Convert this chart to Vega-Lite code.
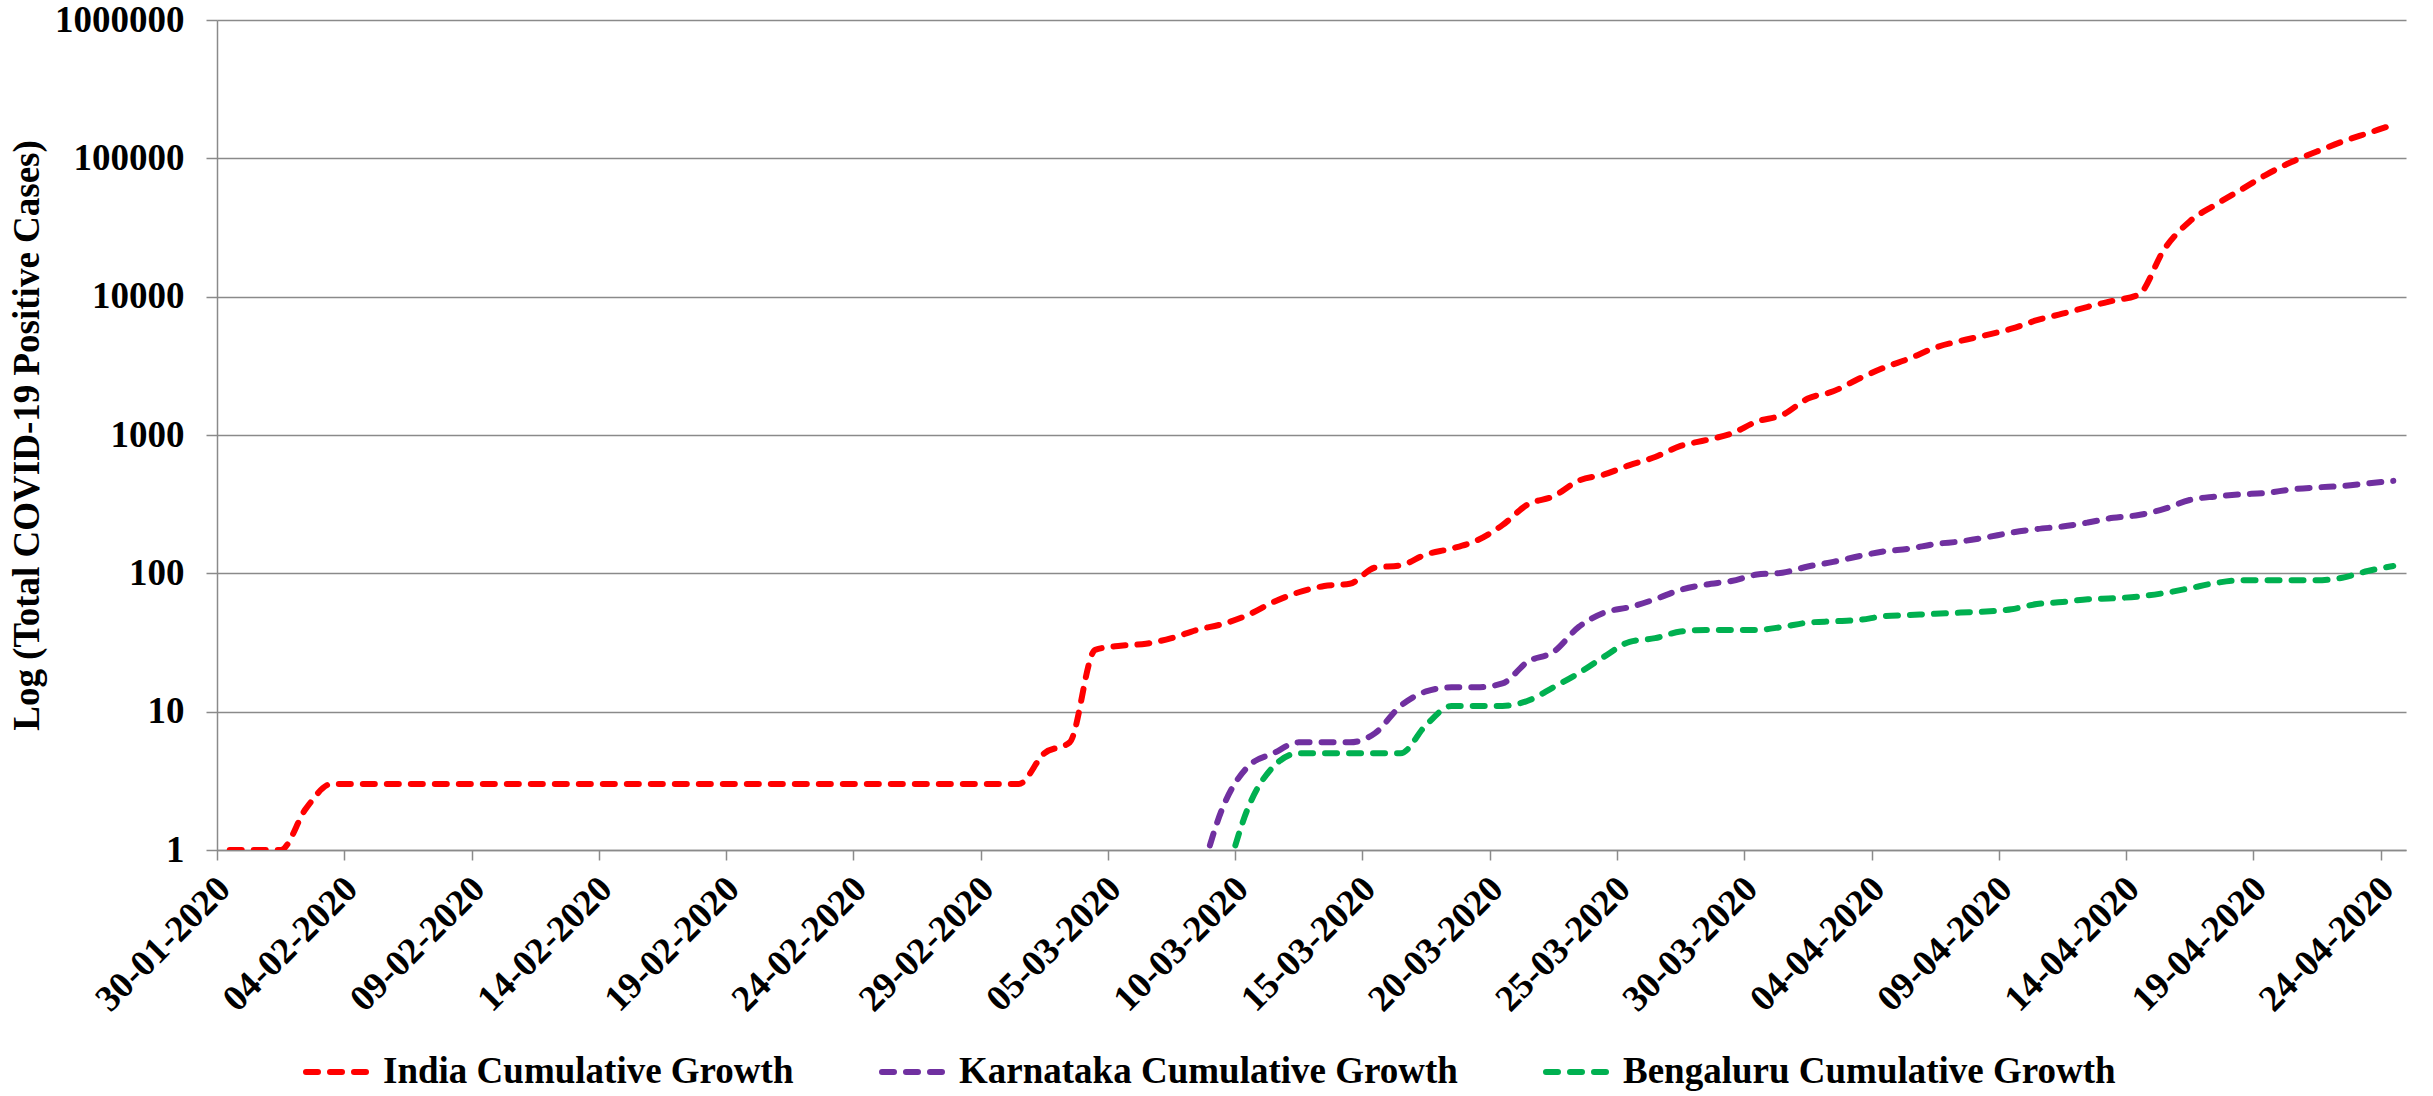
{
"$schema": "https://vega.github.io/schema/vega-lite/v6.json",
"width": 2189, "height": 830,
"autosize": {"type": "none"},
"padding": {"left": 217, "top": 20, "right": 27, "bottom": 246},
"background": "white",
"config": {"view": {"stroke": null}, "font": "Liberation Serif"},
"data": {"values": [
{"date":"2020-01-30","series":"India","cases":1},{"date":"2020-01-31","series":"India","cases":1},{"date":"2020-02-01","series":"India","cases":1},{"date":"2020-02-02","series":"India","cases":2},{"date":"2020-02-03","series":"India","cases":3},{"date":"2020-02-04","series":"India","cases":3},{"date":"2020-02-05","series":"India","cases":3},{"date":"2020-02-06","series":"India","cases":3},{"date":"2020-02-07","series":"India","cases":3},{"date":"2020-02-08","series":"India","cases":3},{"date":"2020-02-09","series":"India","cases":3},{"date":"2020-02-10","series":"India","cases":3},{"date":"2020-02-11","series":"India","cases":3},{"date":"2020-02-12","series":"India","cases":3},{"date":"2020-02-13","series":"India","cases":3},{"date":"2020-02-14","series":"India","cases":3},{"date":"2020-02-15","series":"India","cases":3},{"date":"2020-02-16","series":"India","cases":3},{"date":"2020-02-17","series":"India","cases":3},{"date":"2020-02-18","series":"India","cases":3},{"date":"2020-02-19","series":"India","cases":3},{"date":"2020-02-20","series":"India","cases":3},{"date":"2020-02-21","series":"India","cases":3},{"date":"2020-02-22","series":"India","cases":3},{"date":"2020-02-23","series":"India","cases":3},{"date":"2020-02-24","series":"India","cases":3},{"date":"2020-02-25","series":"India","cases":3},{"date":"2020-02-26","series":"India","cases":3},{"date":"2020-02-27","series":"India","cases":3},{"date":"2020-02-28","series":"India","cases":3},{"date":"2020-02-29","series":"India","cases":3},{"date":"2020-03-01","series":"India","cases":3},{"date":"2020-03-02","series":"India","cases":5},{"date":"2020-03-03","series":"India","cases":6},{"date":"2020-03-04","series":"India","cases":28},{"date":"2020-03-05","series":"India","cases":30},{"date":"2020-03-06","series":"India","cases":31},{"date":"2020-03-07","series":"India","cases":34},{"date":"2020-03-08","series":"India","cases":39},{"date":"2020-03-09","series":"India","cases":43},{"date":"2020-03-10","series":"India","cases":50},{"date":"2020-03-11","series":"India","cases":62},{"date":"2020-03-12","series":"India","cases":73},{"date":"2020-03-13","series":"India","cases":81},{"date":"2020-03-14","series":"India","cases":84},{"date":"2020-03-15","series":"India","cases":110},{"date":"2020-03-16","series":"India","cases":114},{"date":"2020-03-17","series":"India","cases":137},{"date":"2020-03-18","series":"India","cases":151},{"date":"2020-03-19","series":"India","cases":173},{"date":"2020-03-20","series":"India","cases":223},{"date":"2020-03-21","series":"India","cases":315},{"date":"2020-03-22","series":"India","cases":360},{"date":"2020-03-23","series":"India","cases":468},{"date":"2020-03-24","series":"India","cases":519},{"date":"2020-03-25","series":"India","cases":606},{"date":"2020-03-26","series":"India","cases":694},{"date":"2020-03-27","series":"India","cases":834},{"date":"2020-03-28","series":"India","cases":918},{"date":"2020-03-29","series":"India","cases":1024},{"date":"2020-03-30","series":"India","cases":1251},{"date":"2020-03-31","series":"India","cases":1397},{"date":"2020-04-01","series":"India","cases":1834},{"date":"2020-04-02","series":"India","cases":2069},{"date":"2020-04-03","series":"India","cases":2547},{"date":"2020-04-04","series":"India","cases":3072},{"date":"2020-04-05","series":"India","cases":3577},{"date":"2020-04-06","series":"India","cases":4281},{"date":"2020-04-07","series":"India","cases":4789},{"date":"2020-04-08","series":"India","cases":5274},{"date":"2020-04-09","series":"India","cases":5865},{"date":"2020-04-10","series":"India","cases":6761},{"date":"2020-04-11","series":"India","cases":7529},{"date":"2020-04-12","series":"India","cases":8447},{"date":"2020-04-13","series":"India","cases":9352},{"date":"2020-04-14","series":"India","cases":10363},{"date":"2020-04-15","series":"India","cases":22000},{"date":"2020-04-16","series":"India","cases":35000},{"date":"2020-04-17","series":"India","cases":46000},{"date":"2020-04-18","series":"India","cases":59000},{"date":"2020-04-19","series":"India","cases":76000},{"date":"2020-04-20","series":"India","cases":94000},{"date":"2020-04-21","series":"India","cases":112000},{"date":"2020-04-22","series":"India","cases":132000},{"date":"2020-04-23","series":"India","cases":152000},{"date":"2020-04-24","series":"India","cases":175000},
{"date":"2020-03-08","series":"Karnataka","cases":0.5},{"date":"2020-03-09","series":"Karnataka","cases":2},{"date":"2020-03-10","series":"Karnataka","cases":4},{"date":"2020-03-11","series":"Karnataka","cases":5},{"date":"2020-03-12","series":"Karnataka","cases":6},{"date":"2020-03-13","series":"Karnataka","cases":6},{"date":"2020-03-14","series":"Karnataka","cases":6},{"date":"2020-03-15","series":"Karnataka","cases":7},{"date":"2020-03-16","series":"Karnataka","cases":11},{"date":"2020-03-17","series":"Karnataka","cases":14},{"date":"2020-03-18","series":"Karnataka","cases":15},{"date":"2020-03-19","series":"Karnataka","cases":15},{"date":"2020-03-20","series":"Karnataka","cases":16},{"date":"2020-03-21","series":"Karnataka","cases":23},{"date":"2020-03-22","series":"Karnataka","cases":27},{"date":"2020-03-23","series":"Karnataka","cases":41},{"date":"2020-03-24","series":"Karnataka","cases":52},{"date":"2020-03-25","series":"Karnataka","cases":57},{"date":"2020-03-26","series":"Karnataka","cases":65},{"date":"2020-03-27","series":"Karnataka","cases":76},{"date":"2020-03-28","series":"Karnataka","cases":83},{"date":"2020-03-29","series":"Karnataka","cases":88},{"date":"2020-03-30","series":"Karnataka","cases":98},{"date":"2020-03-31","series":"Karnataka","cases":101},{"date":"2020-04-01","series":"Karnataka","cases":112},{"date":"2020-04-02","series":"Karnataka","cases":121},{"date":"2020-04-03","series":"Karnataka","cases":133},{"date":"2020-04-04","series":"Karnataka","cases":144},{"date":"2020-04-05","series":"Karnataka","cases":151},{"date":"2020-04-06","series":"Karnataka","cases":163},{"date":"2020-04-07","series":"Karnataka","cases":170},{"date":"2020-04-08","series":"Karnataka","cases":182},{"date":"2020-04-09","series":"Karnataka","cases":197},{"date":"2020-04-10","series":"Karnataka","cases":209},{"date":"2020-04-11","series":"Karnataka","cases":218},{"date":"2020-04-12","series":"Karnataka","cases":233},{"date":"2020-04-13","series":"Karnataka","cases":252},{"date":"2020-04-14","series":"Karnataka","cases":264},{"date":"2020-04-15","series":"Karnataka","cases":292},{"date":"2020-04-16","series":"Karnataka","cases":339},{"date":"2020-04-17","series":"Karnataka","cases":359},{"date":"2020-04-18","series":"Karnataka","cases":372},{"date":"2020-04-19","series":"Karnataka","cases":381},{"date":"2020-04-20","series":"Karnataka","cases":404},{"date":"2020-04-21","series":"Karnataka","cases":418},{"date":"2020-04-22","series":"Karnataka","cases":428},{"date":"2020-04-23","series":"Karnataka","cases":447},{"date":"2020-04-24","series":"Karnataka","cases":466},
{"date":"2020-03-09","series":"Bengaluru","cases":0.5},{"date":"2020-03-10","series":"Bengaluru","cases":2},{"date":"2020-03-11","series":"Bengaluru","cases":4},{"date":"2020-03-12","series":"Bengaluru","cases":5},{"date":"2020-03-13","series":"Bengaluru","cases":5},{"date":"2020-03-14","series":"Bengaluru","cases":5},{"date":"2020-03-15","series":"Bengaluru","cases":5},{"date":"2020-03-16","series":"Bengaluru","cases":5},{"date":"2020-03-17","series":"Bengaluru","cases":8},{"date":"2020-03-18","series":"Bengaluru","cases":11},{"date":"2020-03-19","series":"Bengaluru","cases":11},{"date":"2020-03-20","series":"Bengaluru","cases":11},{"date":"2020-03-21","series":"Bengaluru","cases":12},{"date":"2020-03-22","series":"Bengaluru","cases":15},{"date":"2020-03-23","series":"Bengaluru","cases":19},{"date":"2020-03-24","series":"Bengaluru","cases":25},{"date":"2020-03-25","series":"Bengaluru","cases":32},{"date":"2020-03-26","series":"Bengaluru","cases":34},{"date":"2020-03-27","series":"Bengaluru","cases":38},{"date":"2020-03-28","series":"Bengaluru","cases":39},{"date":"2020-03-29","series":"Bengaluru","cases":39},{"date":"2020-03-30","series":"Bengaluru","cases":39},{"date":"2020-03-31","series":"Bengaluru","cases":41},{"date":"2020-04-01","series":"Bengaluru","cases":44},{"date":"2020-04-02","series":"Bengaluru","cases":45},{"date":"2020-04-03","series":"Bengaluru","cases":46},{"date":"2020-04-04","series":"Bengaluru","cases":49},{"date":"2020-04-05","series":"Bengaluru","cases":50},{"date":"2020-04-06","series":"Bengaluru","cases":51},{"date":"2020-04-07","series":"Bengaluru","cases":52},{"date":"2020-04-08","series":"Bengaluru","cases":53},{"date":"2020-04-09","series":"Bengaluru","cases":55},{"date":"2020-04-10","series":"Bengaluru","cases":60},{"date":"2020-04-11","series":"Bengaluru","cases":62},{"date":"2020-04-12","series":"Bengaluru","cases":65},{"date":"2020-04-13","series":"Bengaluru","cases":66},{"date":"2020-04-14","series":"Bengaluru","cases":68},{"date":"2020-04-15","series":"Bengaluru","cases":72},{"date":"2020-04-16","series":"Bengaluru","cases":78},{"date":"2020-04-17","series":"Bengaluru","cases":85},{"date":"2020-04-18","series":"Bengaluru","cases":89},{"date":"2020-04-19","series":"Bengaluru","cases":89},{"date":"2020-04-20","series":"Bengaluru","cases":89},{"date":"2020-04-21","series":"Bengaluru","cases":89},{"date":"2020-04-22","series":"Bengaluru","cases":93},{"date":"2020-04-23","series":"Bengaluru","cases":104},{"date":"2020-04-24","series":"Bengaluru","cases":113}
]},
"mark": {"type": "line", "interpolate": "monotone", "strokeWidth": 6, "strokeDash": [12, 12], "strokeCap": "round", "clip": true},
"encoding": {
  "x": {"field": "date", "type": "temporal",
    "scale": {"type": "utc", "domain": [{"year": 2020, "month": 1, "date": 29, "hours": 12, "utc": true}, {"year": 2020, "month": 4, "date": 24, "hours": 12, "utc": true}]},
    "axis": {"title": null, "grid": false,
      "values": [{"year":2020,"month":1,"date":30,"utc":true},{"year":2020,"month":2,"date":4,"utc":true},{"year":2020,"month":2,"date":9,"utc":true},{"year":2020,"month":2,"date":14,"utc":true},{"year":2020,"month":2,"date":19,"utc":true},{"year":2020,"month":2,"date":24,"utc":true},{"year":2020,"month":2,"date":29,"utc":true},{"year":2020,"month":3,"date":5,"utc":true},{"year":2020,"month":3,"date":10,"utc":true},{"year":2020,"month":3,"date":15,"utc":true},{"year":2020,"month":3,"date":20,"utc":true},{"year":2020,"month":3,"date":25,"utc":true},{"year":2020,"month":3,"date":30,"utc":true},{"year":2020,"month":4,"date":4,"utc":true},{"year":2020,"month":4,"date":9,"utc":true},{"year":2020,"month":4,"date":14,"utc":true},{"year":2020,"month":4,"date":19,"utc":true},{"year":2020,"month":4,"date":24,"utc":true}],
      "format": "%d-%m-%Y", "labelAngle": -45, "labelAlign": "right", "labelBaseline": "middle",
      "labelFont": "Liberation Serif", "labelFontSize": 37, "labelFontWeight": "bold", "labelColor": "#000000",
      "labelPadding": 23, "labelOffset": 7, "tickOffset": -12.7, "tickSize": 10, "tickColor": "#8a8a8a", "tickWidth": 1.5,
      "domainColor": "#8a8a8a", "domainWidth": 1.5, "labelOverlap": false, "labelFlush": false, "labelBound": false}},
  "y": {"field": "cases", "type": "quantitative",
    "scale": {"type": "log", "domain": [1, 1000000], "nice": false},
    "axis": {"title": "Log (Total COVID-19 Positive Cases)", "titleFont": "Liberation Serif", "titleFontSize": 37, "titleFontWeight": "bold", "titleColor": "#000000", "titlePadding": 8,
      "values": [1, 10, 100, 1000, 10000, 100000, 1000000], "format": "d",
      "labelFont": "Liberation Serif", "labelFontSize": 37, "labelFontWeight": "bold", "labelColor": "#000000", "labelPadding": 22,
      "tickSize": 11, "tickColor": "#8a8a8a", "tickWidth": 1.5, "domainColor": "#8a8a8a", "domainWidth": 1.5,
      "grid": true, "gridColor": "#8a8a8a", "gridWidth": 1.5, "labelFlush": false}},
  "color": {"field": "series", "type": "nominal",
    "scale": {"domain": ["India", "Karnataka", "Bengaluru"], "range": ["#FF0000", "#7030A0", "#00B050"]},
    "legend": {"title": null, "orient": "none", "legendX": 86, "legendY": 1018, "direction": "horizontal", "columns": 3, "columnPadding": 76,
      "symbolType": "stroke", "symbolSize": 3844, "symbolStrokeWidth": 6, "symbolDash": [12, 12],
      "labelExpr": "datum.label + ' Cumulative Growth'",
      "labelFont": "Liberation Serif", "labelFontSize": 37, "labelFontWeight": "bold", "labelColor": "#000000", "labelOffset": 12, "labelLimit": 0, "padding": 0,
      "encode": {"symbols": {"update": {"strokeCap": {"value": "round"}}}}}}
}
}
